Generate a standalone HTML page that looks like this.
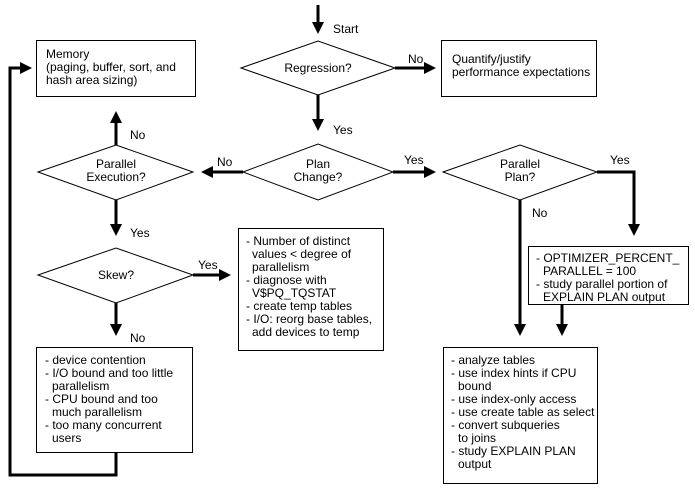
<!DOCTYPE html>
<html><head><style>body{margin:0;background:#fff}svg{display:block}text{font-family:"Liberation Sans",sans-serif;font-size:12px;fill:#000}</style></head><body>
<svg width="695" height="493" viewBox="0 0 695 493" xmlns="http://www.w3.org/2000/svg">
<defs><marker id="a" markerWidth="4" markerHeight="4" refX="3" refY="2" orient="auto" markerUnits="strokeWidth"><path d="M0,0 L4,2 L0,4 z" fill="#000"/></marker></defs>
<g fill="none" stroke="#000" stroke-width="1">
<rect x="36.5" y="40.5" width="159" height="56"/>
<rect x="441.5" y="40.5" width="155" height="56"/>
<rect x="238.5" y="228.5" width="145" height="122"/>
<rect x="36.5" y="347.5" width="156" height="105"/>
<rect x="528.5" y="246.5" width="160" height="58"/>
<rect x="443.5" y="347.5" width="154" height="136"/>
<polygon points="241,68 318,41 395,68 318,95"/>
<polygon points="243,172 318,144 393,172 318,200"/>
<polygon points="38,172 116,145 193,172 116,200"/>
<polygon points="38,275 116,248 193,275 116,303"/>
<polygon points="443,172 520,145 597,172 520,200"/>
</g>
<g fill="none" stroke="#000" stroke-width="3" marker-end="url(#a)">
<line x1="318" y1="5" x2="318" y2="31"/>
<line x1="395" y1="68" x2="433" y2="68"/>
<line x1="318" y1="95" x2="318" y2="128"/>
<line x1="243" y1="172" x2="204" y2="172"/>
<line x1="116" y1="145" x2="116" y2="114"/>
<line x1="116" y1="200" x2="116" y2="233"/>
<line x1="193" y1="275" x2="228" y2="275"/>
<line x1="116" y1="303" x2="116" y2="333"/>
<polyline points="116,453 116,475 10,475 10,68 29,68"/>
<line x1="393" y1="172" x2="433" y2="172"/>
<polyline points="597,172 634,172 634,233"/>
<line x1="520" y1="200" x2="520" y2="333"/>
<line x1="562" y1="305" x2="562" y2="333"/>
</g>
<text x="333" y="33">Start</text>
<text x="318" y="72" text-anchor="middle">Regression?</text>
<text x="408" y="63">No</text>
<text x="333" y="134">Yes</text>
<text x="318" y="168" text-anchor="middle">Plan</text>
<text x="318" y="181" text-anchor="middle">Change?</text>
<text x="217" y="166">No</text>
<text x="404" y="164">Yes</text>
<text x="116" y="168" text-anchor="middle">Parallel</text>
<text x="116" y="181" text-anchor="middle">Execution?</text>
<text x="130" y="139">No</text>
<text x="130" y="237">Yes</text>
<text x="116" y="279" text-anchor="middle">Skew?</text>
<text x="198" y="269">Yes</text>
<text x="130" y="342">No</text>
<text x="520" y="168" text-anchor="middle">Parallel</text>
<text x="520" y="181" text-anchor="middle">Plan?</text>
<text x="610" y="164">Yes</text>
<text x="532" y="217">No</text>
<text x="46" y="58">Memory</text>
<text x="46" y="71">(paging, buffer, sort, and</text>
<text x="46" y="84">hash area sizing)</text>
<text x="452" y="63">Quantify/justify</text>
<text x="452" y="76">performance expectations</text>
<text x="246" y="245">- Number of distinct</text>
<text x="252" y="258">values &lt; degree of</text>
<text x="252" y="271">parallelism</text>
<text x="246" y="284">- diagnose with</text>
<text x="252" y="297">V$PQ_TQSTAT</text>
<text x="246" y="310">- create temp tables</text>
<text x="246" y="323">- I/O: reorg base tables,</text>
<text x="252" y="336">add devices to temp</text>
<text x="45" y="364">- device contention</text>
<text x="45" y="377">- I/O bound and too little</text>
<text x="52" y="390">parallelism</text>
<text x="45" y="403">- CPU bound and too</text>
<text x="52" y="416">much parallelism</text>
<text x="45" y="429">- too many concurrent</text>
<text x="52" y="442">users</text>
<text x="536" y="262">- OPTIMIZER_PERCENT_</text>
<text x="543" y="275">PARALLEL = 100</text>
<text x="536" y="288">- study parallel portion of</text>
<text x="543" y="301">EXPLAIN PLAN output</text>
<text x="451" y="364">- analyze tables</text>
<text x="451" y="377">- use index hints if CPU</text>
<text x="458" y="390">bound</text>
<text x="451" y="403">- use index-only access</text>
<text x="451" y="416">- use create table as select</text>
<text x="451" y="429">- convert subqueries</text>
<text x="458" y="442">to joins</text>
<text x="451" y="455">- study EXPLAIN PLAN</text>
<text x="458" y="468">output</text>
</svg>
</body></html>
